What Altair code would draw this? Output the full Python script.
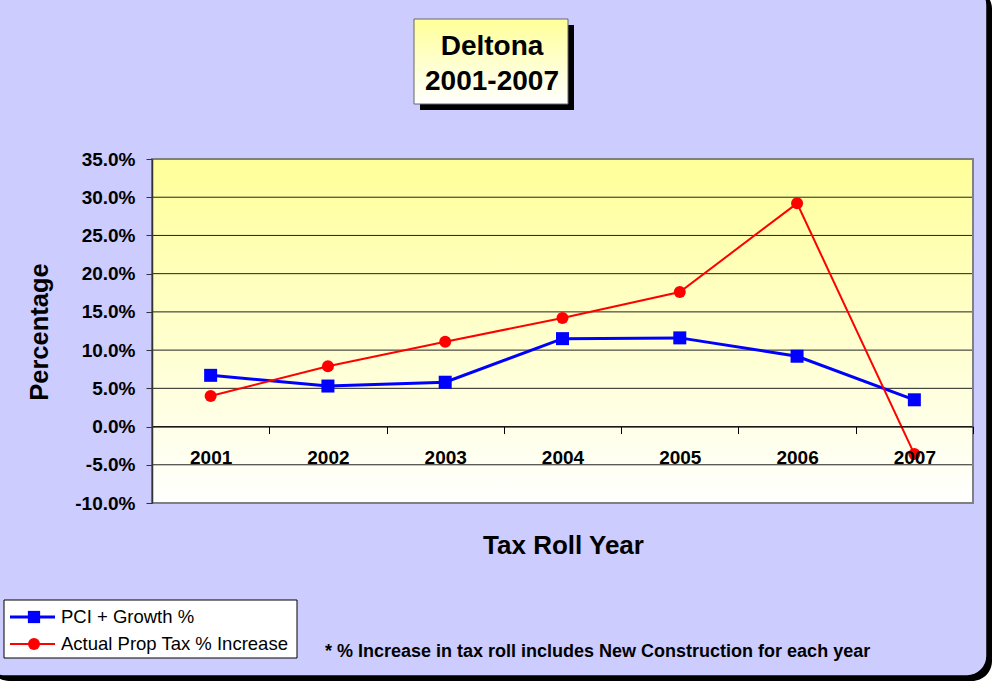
import altair as alt
import pandas as pd

# ---- data ----
YEARS = ["2001", "2002", "2003", "2004", "2005", "2006", "2007"]
PCI_GROWTH = [6.7, 5.3, 5.8, 11.5, 11.6, 9.2, 3.5]          # percent
ACTUAL_INCREASE = [4.0, 7.9, 11.1, 14.2, 17.6, 29.2, -3.6]  # percent
SERIES = ["PCI + Growth %", "Actual Prop Tax % Increase"]
COLORS = ["#0000FF", "#FF0000"]
SHAPES = ["square", "circle"]
Y_TICKS = [-0.10, -0.05, 0.0, 0.05, 0.10, 0.15, 0.20, 0.25, 0.30, 0.35]
TITLE_LINES = ["Deltona", "2001-2007"]
Y_TITLE = "Percentage"
X_TITLE = "Tax Roll Year"
FOOTNOTE = "* % Increase in tax roll includes New Construction for each year"

rows = []
for name, vals in zip(SERIES, [PCI_GROWTH, ACTUAL_INCREASE]):
    for yr, v in zip(YEARS, vals):
        rows.append({"year": yr, "series": name, "value": v / 100.0})
df = pd.DataFrame(rows)

FONT = "Liberation Sans, Arial, Helvetica, sans-serif"
W, H = 821, 344
ymin, ymax = -0.10, 0.35
zero_y = H * (ymax - 0) / (ymax - ymin)

one = pd.DataFrame({"a": [1]})


def box(x, x2, y, y2, **kw):
    return alt.Chart(one).mark_rect(**kw).encode(
        x=alt.value(x), x2=alt.value(x2), y=alt.value(y), y2=alt.value(y2)
    )


def label(txt, x, y, **kw):
    return alt.Chart(one).mark_text(text=txt, font=FONT, **kw).encode(
        x=alt.value(x), y=alt.value(y)
    )


yellow_grad = {
    "gradient": "linear", "x1": 0, "y1": 0, "x2": 0, "y2": 1,
    "stops": [{"offset": 0, "color": "#FFFF99"}, {"offset": 1, "color": "#FFFFFF"}],
}

# outer rounded panel
outer_shadow = box(-163, 840, -170, 522, fill="black", cornerRadius=20)
outer_bg = box(-167, 835, -174, 517, fill="#CCCCFF", stroke="black",
               strokeWidth=1.5, cornerRadius=20)

# title box
title_shadow = box(268, 422, -134, -49, fill="black")
title_box = box(262, 416, -140, -55, fill=yellow_grad, stroke="#666666", strokeWidth=1)
title1 = label(TITLE_LINES[0], 340, -104, fontSize=28, fontWeight="bold",
               align="center", baseline="alphabetic", color="black")
title2 = label(TITLE_LINES[1], 340, -69, fontSize=28, fontWeight="bold",
               align="center", baseline="alphabetic", color="black")

# axis titles
y_title = label(Y_TITLE, -104, 173, fontSize=25.5, fontWeight="bold", angle=270,
                align="center", baseline="alphabetic", color="black")
x_title = label(X_TITLE, 411.5, 395, fontSize=26, fontWeight="bold",
                align="center", baseline="alphabetic", color="black")

# legend
legend_box = box(-148, 145, 441, 499, fill="white", stroke="black", strokeWidth=1)
legend_layers = []
for i, (name, col, shp, sw, sz) in enumerate(zip(SERIES, COLORS, SHAPES, [3, 2], [150, 144])):
    ly = 458 + i * 27
    legend_layers.append(
        alt.Chart(one).mark_rule(color=col, strokeWidth=sw).encode(
            x=alt.value(-142), x2=alt.value(-97), y=alt.value(ly))
    )
    legend_layers.append(
        alt.Chart(one).mark_point(shape=shp, filled=True, color=col, size=sz, opacity=1).encode(
            x=alt.value(-118), y=alt.value(ly))
    )
    legend_layers.append(
        label(name, -91, ly, fontSize=18.5, align="left", baseline="middle", color="black")
    )

footnote = label(FOOTNOTE, 173, 493, fontSize=18, fontWeight="bold",
                 align="left", baseline="middle", color="black")

y_scale = alt.Scale(domain=[ymin, ymax], nice=False, zero=False)
y_axis = alt.Axis(values=Y_TICKS, labelExpr="replace(format(datum.value, '.1%'), '\u2212', '-')",
                  labelFont=FONT, labelFontSize=19,
                  labelFontWeight="bold", labelColor="black", tickSize=6,
                  tickColor="#333333", domainColor="#333333", domainWidth=1.5,
                  labelPadding=11, labelOverlap=False, labelBound=False, labelFlush=False,
                  title=None, grid=False, zindex=1)

# plot area
plot_bg = box(0, W, 0, H, fill=yellow_grad)
grid = alt.Chart(pd.DataFrame({"value": Y_TICKS})).mark_rule(color="#222222", strokeWidth=1).encode(
    y=alt.Y("value:Q", scale=y_scale, axis=y_axis),
    x=alt.value(0), x2=alt.value(W),
)
plot_border = box(0, W, 0, H, fill=None, fillOpacity=0, stroke="#808080", strokeWidth=2)

x_enc = alt.X(
    "year:O", bandPosition=0.5,
    scale=alt.Scale(type="band", domain=YEARS, paddingInner=0, paddingOuter=0),
    axis=alt.Axis(orient="bottom", offset=-(H - zero_y), tickBand="extent",
                  labelAngle=0, labelFont=FONT, labelFontSize=19, labelFontWeight="bold",
                  labelColor="black", tickSize=7, tickColor="black", domainColor="black",
                  domainWidth=1, labelPadding=15, labelOverlap=False, title=None,
                  grid=False, zindex=1),
)
y_enc = alt.Y("value:Q", scale=y_scale, axis=y_axis)
col_enc = alt.Color("series:N", scale=alt.Scale(domain=SERIES, range=COLORS), legend=None)

lines = alt.Chart(df).mark_line().encode(
    x=x_enc, y=y_enc, color=col_enc,
    strokeWidth=alt.StrokeWidth("series:N", scale=alt.Scale(domain=SERIES, range=[3, 2]), legend=None),
)
points = alt.Chart(df).mark_point(filled=True, opacity=1).encode(
    x=x_enc, y=y_enc, color=col_enc,
    shape=alt.Shape("series:N", scale=alt.Scale(domain=SERIES, range=SHAPES), legend=None),
    size=alt.Size("series:N", scale=alt.Scale(domain=SERIES, range=[169, 144]), legend=None),
)

chart = alt.layer(
    outer_shadow, outer_bg, title_shadow, title_box, title1, title2,
    y_title, x_title, legend_box, *legend_layers, footnote,
    plot_bg, grid, plot_border, lines, points,
).properties(
    width=W, height=H,
    autosize=alt.AutoSizeParams(type="none"),
    padding={"left": 152, "top": 159, "right": 20, "bottom": 183},
    background="white",
).configure_view(stroke=None)

chart.save("out.html", embed_options={"renderer": "svg", "actions": False})
